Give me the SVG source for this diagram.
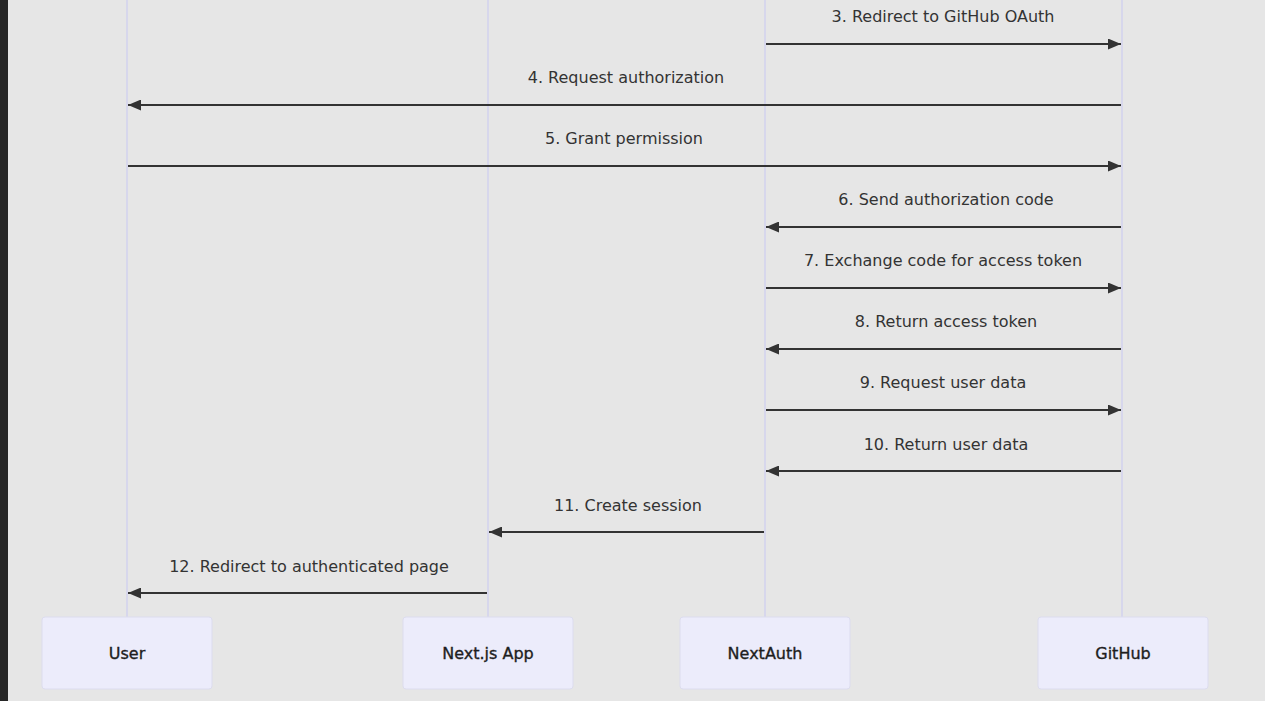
<svg xmlns="http://www.w3.org/2000/svg" width="1265" height="701" viewBox="0 0 1265 701">
<defs>
<style>
.life{stroke:#d2d2ee;stroke-width:1.5;fill:none}
.msg{stroke:#333;stroke-width:1.8;fill:none}
.mt{font-family:"DejaVu Sans",Verdana,sans-serif;font-size:16px;fill:#333;text-anchor:middle}
.box{fill:#ececfb;stroke:#dcdcee;stroke-width:1}
.at{font-family:"DejaVu Sans",Verdana,sans-serif;font-size:16px;fill:#1e1e1e;stroke:#1e1e1e;stroke-width:0.35;text-anchor:middle}
</style>
<marker id="ah" viewBox="0 0 13 11" refX="13" refY="5.5" markerWidth="13" markerHeight="11" markerUnits="userSpaceOnUse" orient="auto">
<path d="M0,0 L13,5.5 L0,11 Z" fill="#333"/>
</marker>
</defs>
<rect x="0" y="0" width="1265" height="701" fill="#e6e6e6"/>
<rect x="0" y="0" width="8" height="701" fill="#262626"/>
<g id="lifelines">
<line class="life" x1="127" y1="0" x2="127" y2="617"/>
<line class="life" x1="488" y1="0" x2="488" y2="617"/>
<line class="life" x1="765" y1="0" x2="765" y2="617"/>
<line class="life" x1="1122" y1="0" x2="1122" y2="617"/>
</g>
<g id="connectors">
<line class="msg" x1="766" y1="44" x2="1121" y2="44" marker-end="url(#ah)"/>
<text class="mt" x="943" y="22">3. Redirect to GitHub OAuth</text>
<line class="msg" x1="1121" y1="105" x2="128" y2="105" marker-end="url(#ah)"/>
<text class="mt" x="626" y="83">4. Request authorization</text>
<line class="msg" x1="128" y1="166" x2="1121" y2="166" marker-end="url(#ah)"/>
<text class="mt" x="624" y="144">5. Grant permission</text>
<line class="msg" x1="1121" y1="227" x2="766" y2="227" marker-end="url(#ah)"/>
<text class="mt" x="946" y="205">6. Send authorization code</text>
<line class="msg" x1="766" y1="288" x2="1121" y2="288" marker-end="url(#ah)"/>
<text class="mt" x="943" y="266">7. Exchange code for access token</text>
<line class="msg" x1="1121" y1="349" x2="766" y2="349" marker-end="url(#ah)"/>
<text class="mt" x="946" y="327">8. Return access token</text>
<line class="msg" x1="766" y1="410" x2="1121" y2="410" marker-end="url(#ah)"/>
<text class="mt" x="943" y="388">9. Request user data</text>
<line class="msg" x1="1121" y1="471" x2="766" y2="471" marker-end="url(#ah)"/>
<text class="mt" x="946" y="450">10. Return user data</text>
<line class="msg" x1="764" y1="532" x2="489" y2="532" marker-end="url(#ah)"/>
<text class="mt" x="628" y="511">11. Create session</text>
<line class="msg" x1="487" y1="593" x2="128" y2="593" marker-end="url(#ah)"/>
<text class="mt" x="309" y="572">12. Redirect to authenticated page</text>
</g>
<g id="user">
<rect class="box" x="42" y="617" width="170" height="72" rx="3"/>
<text class="at" x="127" y="659">User</text>
</g>
<g id="nextjs">
<rect class="box" x="403" y="617" width="170" height="72" rx="3"/>
<text class="at" x="488" y="659">Next.js App</text>
</g>
<g id="nextauth">
<rect class="box" x="680" y="617" width="170" height="72" rx="3"/>
<text class="at" x="765" y="659">NextAuth</text>
</g>
<g id="github">
<rect class="box" x="1038" y="617" width="170" height="72" rx="3"/>
<text class="at" x="1123" y="659">GitHub</text>
</g>
</svg>
